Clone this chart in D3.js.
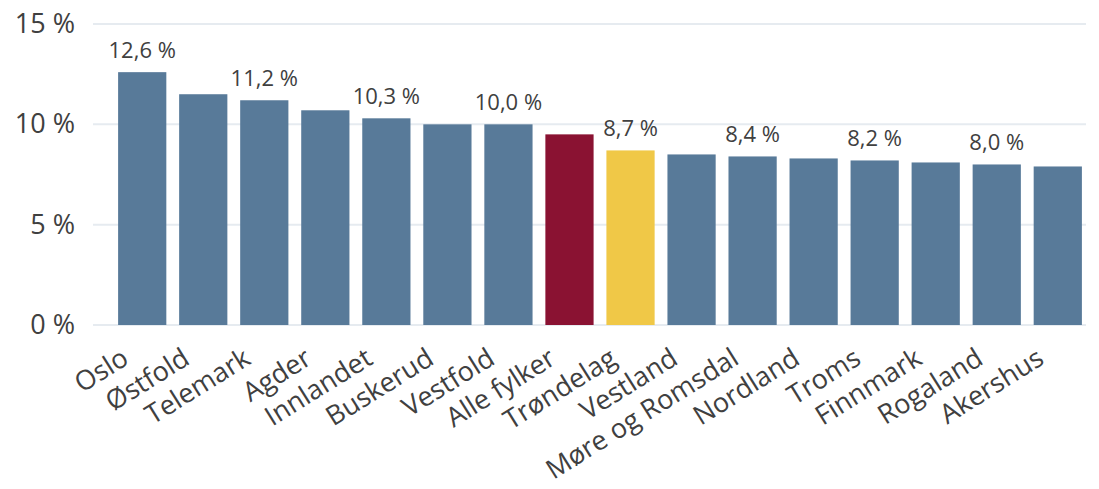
<!DOCTYPE html>
<html><head><meta charset="utf-8">
<script src="https://cdn.jsdelivr.net/npm/d3@7"></script>
<style>body{margin:0;background:#fff;} svg{display:block;font-family:"Open Sans",sans-serif;}</style>
</head><body>
<svg id="c" width="1099" height="489"></svg>
<script>
const categories = ["Oslo","Østfold","Telemark","Agder","Innlandet","Buskerud","Vestfold","Alle fylker","Trøndelag","Vestland","Møre og Romsdal","Nordland","Troms","Finnmark","Rogaland","Akershus"];
const values = [12.6,11.5,11.2,10.7,10.3,10.0,10.0,9.5,8.7,8.5,8.4,8.3,8.2,8.1,8.0,7.9];
const labelled = ["Oslo","Telemark","Innlandet","Vestfold","Trøndelag","Møre og Romsdal","Troms","Rogaland"];
const yTicks = [0,5,10,15];
const colorFor = c => c === "Alle fylker" ? "#8A1232" : (c === "Trøndelag" ? "#F0C847" : "#587A99");

const svg = d3.select("#c");
const x = d3.scaleBand().domain(categories).range([112, 1088]).paddingInner(0.21).paddingOuter(0.1);
const y = d3.scaleLinear().domain([0, 15]).range([325, 24]);
const fmt = v => d3.format(".1f")(v).replace(".", ",") + " %";

// grid
svg.append("g").selectAll("line").data(yTicks).join("line")
  .attr("x1", 93).attr("x2", 1086)
  .attr("y1", d => y(d)).attr("y2", d => y(d))
  .attr("stroke", "#e6ebf0").attr("stroke-width", 2);

// y axis labels
const yAxis = d3.axisLeft(y).tickValues(yTicks).tickSize(0).tickPadding(0).tickFormat(d => d + " %");
svg.append("g").attr("transform", "translate(75,0)").call(yAxis)
  .call(g => g.select(".domain").remove())
  .selectAll("text").attr("font-size", 27).attr("fill", "#404040").attr("font-family", "Open Sans, sans-serif");

// bars
svg.append("g").selectAll("rect").data(categories).join("rect")
  .attr("x", d => x(d)).attr("width", x.bandwidth())
  .attr("y", (d, i) => y(values[i])).attr("height", (d, i) => y(0) - y(values[i]))
  .attr("fill", d => colorFor(d));

// value labels
svg.append("g").selectAll("text").data(categories.filter(c => labelled.includes(c))).join("text")
  .attr("x", d => x(d) + x.bandwidth() / 2)
  .attr("y", d => y(values[categories.indexOf(d)]) - 14)
  .attr("text-anchor", "middle").attr("font-size", 22).attr("fill", "#404040")
  .text(d => fmt(values[categories.indexOf(d)]));

// x axis labels
const xAxis = d3.axisBottom(x).tickSize(0).tickPadding(0);
svg.append("g").attr("transform", "translate(0,325)").call(xAxis)
  .call(g => g.select(".domain").remove())
  .selectAll("text")
  .attr("font-size", 27).attr("fill", "#404040").attr("font-family", "Open Sans, sans-serif")
  .attr("text-anchor", "end")
  .attr("y", 0).attr("dy", 0)
  .attr("transform", "translate(-12,38) rotate(-32)");
</script>
</body></html>
